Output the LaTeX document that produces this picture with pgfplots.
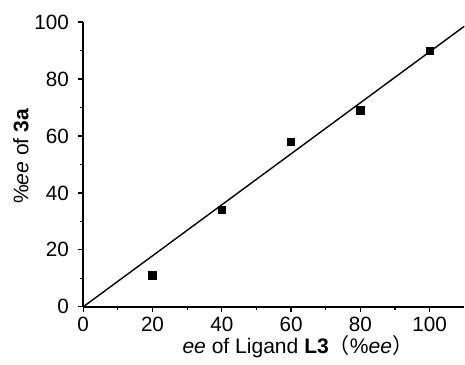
\documentclass[border=0pt]{standalone}
\usepackage{pgfplots}
\pgfplotsset{compat=1.18}
\usepackage{fontspec}
\setmainfont{Liberation Sans}
\newfontfamily\cjk{Noto Sans CJK SC}
\begin{document}
\begin{tikzpicture}
\begin{axis}[
  scale only axis,
  width=190pt, height=142pt,
  xmin=0, xmax=110, ymin=0, ymax=100,
  axis x line*=bottom, axis y line*=left,
  axis line style={line width=0.75pt},
  xtick={0,20,...,100}, ytick={0,20,...,100},
  minor tick num=1,
  tick align=outside,
  major tick length=2.6pt, minor tick length=1.6pt,
  tick style={line width=0.6pt, black},
  /pgf/number format/assume math mode=true,
  tick label style={font=\fontsize{10.3}{12}\selectfont},
  label style={font=\fontsize{10.5}{12}\selectfont},
  xticklabel style={yshift=1pt},
  yticklabel style={xshift=-1pt},
  xlabel={\textit{ee} of Ligand \textbf{L3}{\cjk\smash{（}}\%\textit{ee}{\cjk\smash{）}}},
  ylabel={\%\textit{ee} of \textbf{3a}},
  xlabel style={yshift=3.5pt, xshift=12pt},
  ylabel style={yshift=-4pt, xshift=4pt},
  clip=false,
]
\addplot[only marks, mark=square*, mark size=1.8pt, black] coordinates {
  (20,11) (40,34) (60,58) (80,69) (100,90)
};
\addplot[black, line width=0.7pt] coordinates {(0,0) (110,98.5)};
\path (rel axis cs:0,1) -- ++(0,11pt);
\path (rel axis cs:0,0.5) -- ++(-41.5pt,0);
\end{axis}
\end{tikzpicture}
\end{document}
